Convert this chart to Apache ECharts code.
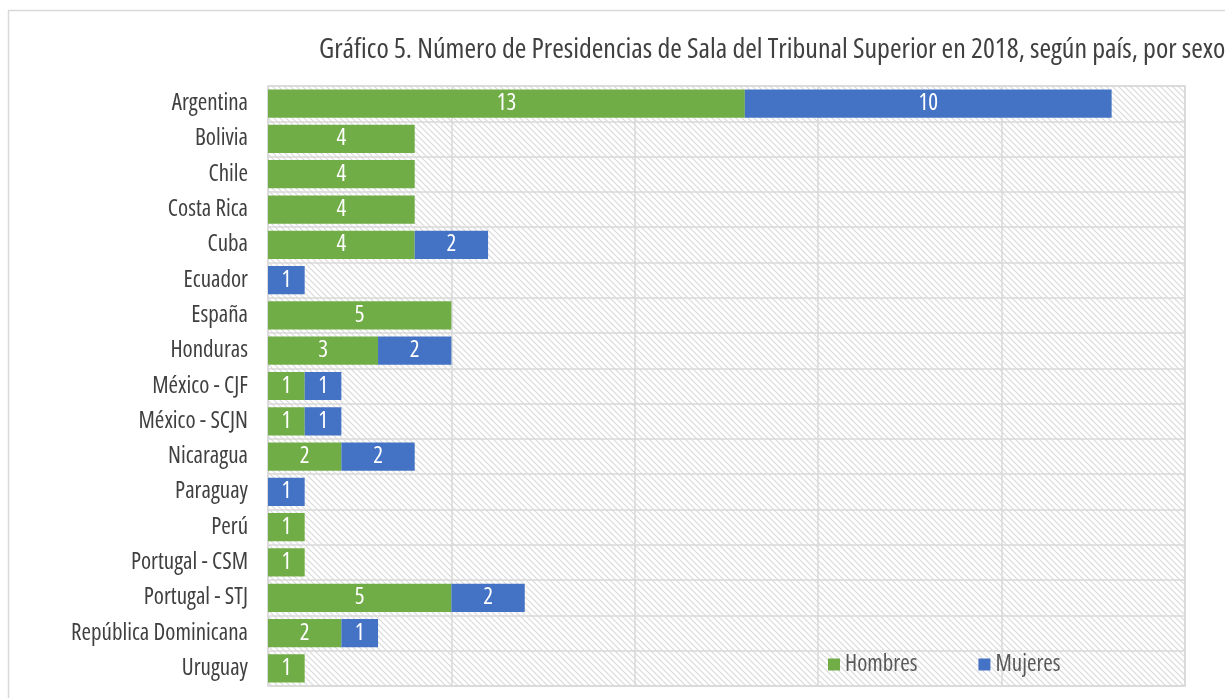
<!DOCTYPE html>
<html>
<head>
<meta charset="utf-8">
<script src="https://cdn.jsdelivr.net/npm/echarts@6/dist/echarts.min.js"></script>
<style>
  html, body { margin: 0; padding: 0; background: #fff; }
  #chart { width: 1225px; height: 698px; }
</style>
</head>
<body>
<div id="chart"></div>
<script>
const paises = ['Argentina', 'Bolivia', 'Chile', 'Costa Rica', 'Cuba', 'Ecuador', 'España', 'Honduras',
    'México - CJF', 'México - SCJN', 'Nicaragua', 'Paraguay', 'Perú', 'Portugal - CSM', 'Portugal - STJ',
    'República Dominicana', 'Uruguay'];
const hombres = [13, 4, 4, 4, 4, null, 5, 3, 1, 1, 2, null, 1, 1, 5, 2, 1];
const mujeres = [10, null, null, null, 2, 1, null, 2, 1, 1, 2, 1, null, null, 2, 1, null];
const titulo = 'Gráfico 5. Número de Presidencias de Sala del Tribunal Superior en 2018, según país, por sexo';

// Open Sans has a width axis, "condensed" gets close to the original narrow face
const fuente = '"Open Sans", sans-serif';
const estiramiento = 'condensed';

// hatch pattern for the plot background
function hatch() {
    let c = document.createElement('canvas');
    c.width = 6;
    c.height = 6;
    let ctx = c.getContext('2d');
    ctx.fillStyle = '#ffffff';
    ctx.fillRect(0, 0, 6, 6);
    ctx.strokeStyle = '#d9d9d9';
    ctx.lineWidth = 1.2;
    ctx.beginPath();
    ctx.moveTo(-1, -1); ctx.lineTo(7, 7);
    ctx.moveTo(-4, 2); ctx.lineTo(2, 8);
    ctx.moveTo(2, -4); ctx.lineTo(8, 2);
    ctx.stroke();
    return c;
}

let chart = echarts.init(document.getElementById('chart'));

const etiqueta = {
    show: true,
    position: 'inside',
    color: '#ffffff',
    fontFamily: fuente,
    fontStyle: estiramiento,
    fontSize: 23
};

chart.setOption({
    animation: false,
    textStyle: { fontFamily: fuente, fontStyle: estiramiento },
    graphic: [{
        type: 'rect',
        shape: { x: 8.5, y: 10.5, width: 1240, height: 720 },
        style: { fill: 'none', stroke: '#d9d9d9', lineWidth: 1.5 },
        z: -10
    }],
    title: {
        text: titulo,
        left: 314,
        top: 31,
        textStyle: { fontFamily: fuente, fontStyle: estiramiento, fontSize: 28, fontWeight: 'normal', color: '#404040' }
    },
    legend: {
        left: 823,
        top: 648,
        itemWidth: 12,
        itemHeight: 12,
        itemGap: 61,
        icon: 'rect',
        textStyle: { fontFamily: fuente, fontStyle: estiramiento, fontSize: 23, color: '#595959' },
        data: ['Hombres', 'Mujeres']
    },
    grid: {
        left: 268,
        right: 40,
        top: 86,
        bottom: 12,
        show: true,
        backgroundColor: { image: hatch(), repeat: 'repeat' },
        borderColor: '#d9d9d9',
        borderWidth: 1.5
    },
    xAxis: {
        type: 'value',
        min: 0,
        max: 25,
        interval: 5,
        axisLabel: { show: false },
        axisTick: { show: false },
        axisLine: { show: false },
        splitLine: { lineStyle: { color: '#d9d9d9', width: 1.5 } }
    },
    yAxis: {
        type: 'category',
        inverse: true,
        data: paises,
        axisLine: { show: false },
        axisTick: { show: false },
        axisLabel: { fontFamily: fuente, fontStyle: estiramiento, fontSize: 23, color: '#404040', margin: 20 },
        splitLine: { show: true, lineStyle: { color: '#d9d9d9', width: 1.5 } }
    },
    series: [
        {
            name: 'Hombres',
            type: 'bar',
            stack: 'total',
            data: hombres,
            barCategoryGap: '20%',
            itemStyle: { color: '#70ad47' },
            label: etiqueta
        },
        {
            name: 'Mujeres',
            type: 'bar',
            stack: 'total',
            data: mujeres,
            itemStyle: { color: '#4472c4' },
            label: etiqueta
        }
    ]
});
</script>
</body>
</html>
